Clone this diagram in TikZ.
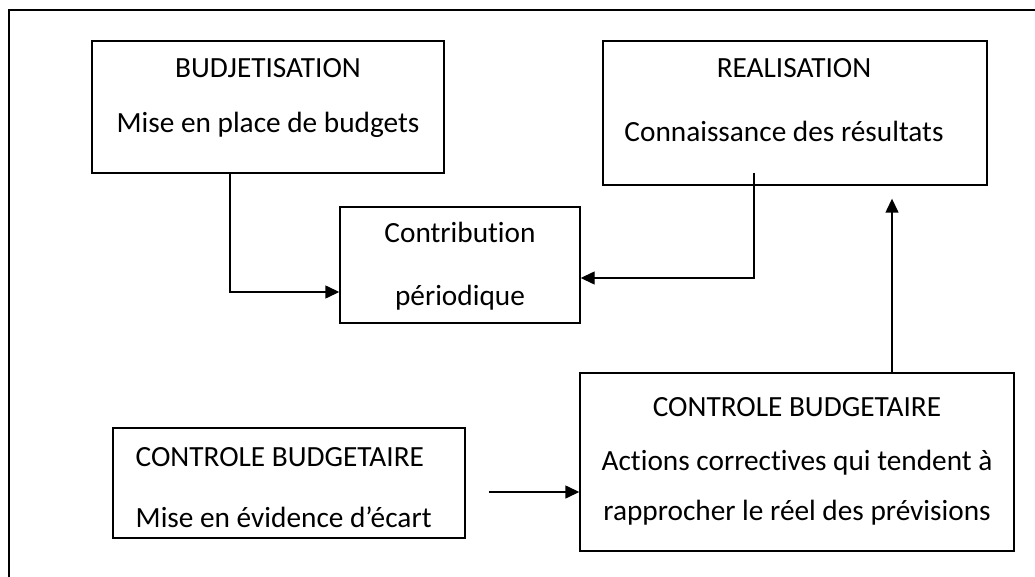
\documentclass[tikz,border=0pt]{standalone}
\usepackage{fontspec}
\setmainfont{Carlito}[Ligatures=NoCommon]
\usetikzlibrary{arrows.meta,positioning}

\begin{document}
\begin{tikzpicture}[x=1pt,y=-1pt,line width=1.4pt,
box/.style={draw,rectangle,inner sep=0pt},
txt/.style={anchor=base,inner sep=0pt,font=\fontsize{29.3}{35}\selectfont},
arr/.style={-{Triangle[length=14pt,width=13pt]}}]
\useasboundingbox (0,0) rectangle (1035,577);
\draw (1035,10) -- (9,10) -- (9,577);
% boxes
\node (budj) [box,minimum width=352pt,minimum height=132pt] at (268,107) {};
\node (real) [box,minimum width=384pt,minimum height=144pt] at (795,113) {};
\node (contrib) [box,minimum width=240pt,minimum height=116pt] at (460,265) {};
\node (ctrlA) [box,minimum width=352pt,minimum height=110pt] at (289,483) {};
\node (ctrlB) [box,minimum width=434pt,minimum height=178pt] at (797,462) {};
% texts
\node (budjA) [txt] at (268,78) {BUDJETISATION};
\node (budjB) [txt] at (268,133) {Mise en place de budgets};
\node (realA) [txt] at (794,78) {REALISATION};
\node (realB) [txt] at (784,142) {Connaissance des résultats};
\node (contribA) [txt] at (460,243) {Contribution};
\node (contribB) [txt] at (460,305) {périodique};
\node (ctrlAa) [txt,anchor=base west] at (135,466) {CONTROLE BUDGETAIRE};
\node (ctrlAb) [txt,anchor=base west] at (135,527) {Mise en évidence d’écart};
\node (ctrlBa) [txt] at (797,416) {CONTROLE BUDGETAIRE};
\node (ctrlBb) [txt] at (797,470) {Actions correctives qui tendent à};
\node (ctrlBc) [txt] at (797,520) {rapprocher le réel des prévisions};
% connectors
\coordinate (rfoot) at (754,173);
\draw[arr] ([xshift=-38pt]budj.south) |- ([yshift=-27pt]contrib.west);
\draw[arr] (rfoot) |- ([yshift=-13pt]contrib.east);
\draw[arr] ([xshift=23pt,yshift=-9pt]ctrlA.east) -- ([yshift=-30pt]ctrlB.west);
\draw[arr] ([xshift=95pt]ctrlB.north) -- ([xshift=97pt,yshift=-13pt]real.south);
\end{tikzpicture}
\end{document}
